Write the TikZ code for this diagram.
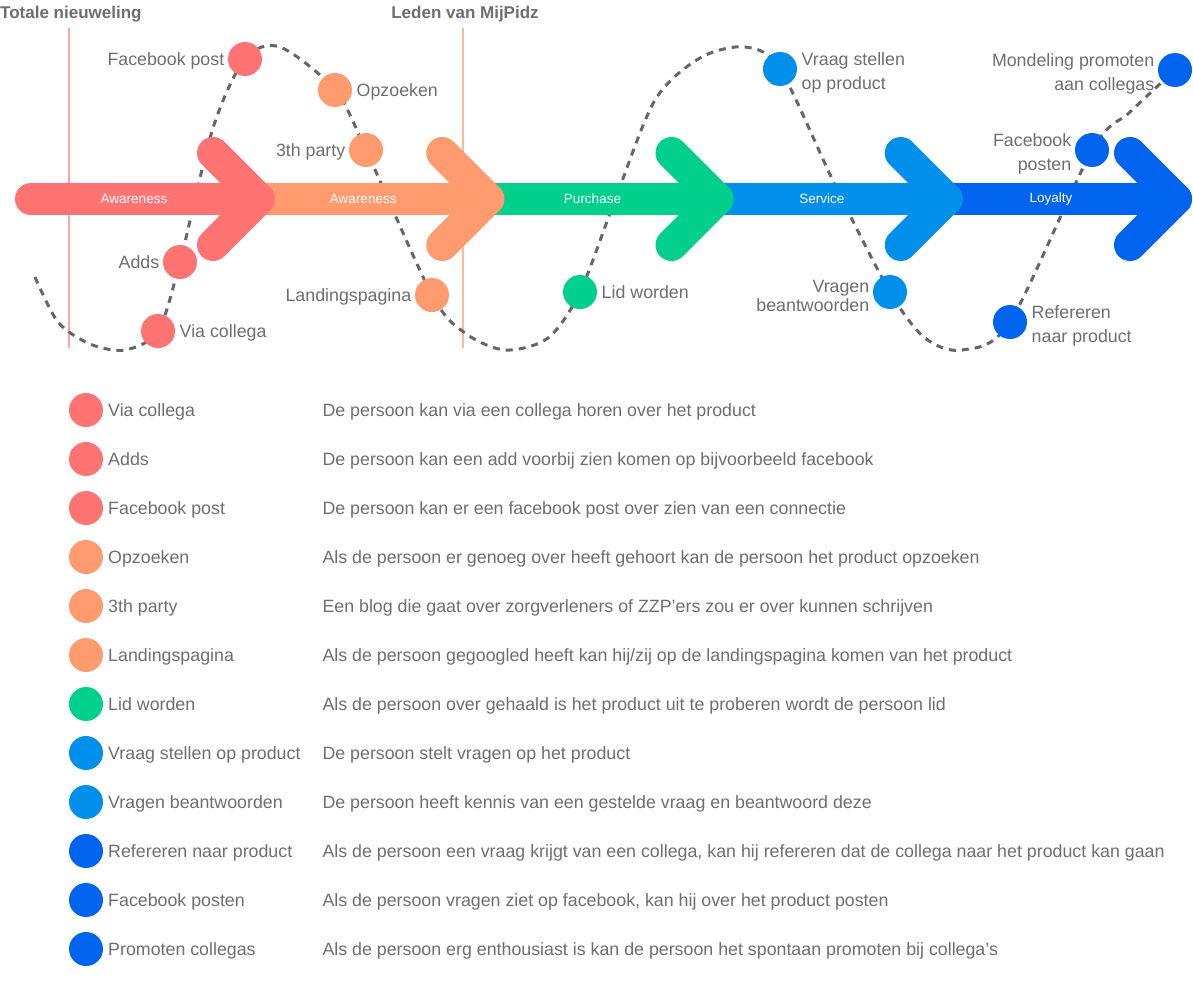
\documentclass[tikz,border=0pt]{standalone}
\usepackage{fontspec}
\setmainfont{Liberation Sans}
\usetikzlibrary{positioning}
\definecolor{rood}{HTML}{FF7373}
\definecolor{oranje}{HTML}{FF9B6F}
\definecolor{groen}{HTML}{00D08B}
\definecolor{lichtblauw}{HTML}{008FEB}
\definecolor{blauw}{HTML}{0064EE}
\definecolor{tekst}{HTML}{6E6E6E}
\definecolor{streep}{HTML}{666666}

\begin{document}
\begin{tikzpicture}[x=1pt, y=-1pt,
  every node/.style={text=tekst, font=\fontsize{17.8}{24}\selectfont},
  dot/.style={circle, fill=#1, minimum size=34pt, inner sep=0pt},
  lbl/.style={text height=13pt, text depth=1pt},
  twee/.style={yshift=-3.5pt},
  band/.style={draw=#1, line width=32pt, line cap=round, line join=round},
  fase/.style={text=white, font=\fontsize{13.5}{15}\selectfont},
  kop/.style={font=\bfseries\fontsize{17}{20}\selectfont, inner sep=0pt},
  pad/.style={draw=streep, line width=3pt, dash pattern=on 7pt off 6pt}]
\useasboundingbox (0,0) rectangle (1193,982);
\node[kop, anchor=west] (nieuw) at (0,14) {Totale nieuweling};
\node[kop] (leden) at (465,14) {Leden van MijPidz};
\draw[line width=2.5pt, draw=rood!65] (69,28) -- (69,348);
\draw[line width=2.5pt, draw=oranje!70] (463,28) -- (463,348);

\coordinate (via) at (158,331);
\coordinate (adds) at (180,262);
\coordinate (fb) at (245,59);
\coordinate (opz) at (335,90);
\coordinate (party) at (366,150);
\coordinate (land) at (432,295);
\coordinate (lid) at (580,292);
\coordinate (vraag) at (780,69);
\coordinate (vragen) at (890,292);
\coordinate (ref) at (1010,322);
\coordinate (fbp) at (1092,150);
\coordinate (mond) at (1175,70);
\draw[pad] plot[smooth] coordinates {(35,277) (58,322) (90,344) (125,350) (via) (adds) (213,128) (fb) (280,47) (opz) (party) (land) (465,333) (505,350) (548,338) (lid) (615,200) (655,100) (700,58) (745,47) (vraag) (835,185) (vragen) (925,338) (962,350) (ref) (fbp) (1130,112) (mond)};

\foreach \i/\t/\s/\kl/\naam in {4/1176/946.75/blauw/Loyalty, 3/946.75/717.5/lichtblauw/Service, 2/717.5/488.25/groen/Purchase, 1/488.25/259/oranje/Awareness, 0/259/31/rood/Awareness}{
  \draw[band=\kl] (\s,199) -- (\t,199);
  \draw[band=\kl] (\t-46,153) -- (\t,199) -- (\t-46,245);
  \node[fase] (fase\i) at (\t-125,199) {\naam};
}

\node[dot=rood] (viad) at (via) {};
\node[lbl, right=1pt of viad] (vial) {Via collega};
\node[dot=rood] (addsd) at (adds) {};
\node[lbl, left=0pt of addsd] (addsl) {Adds};
\node[dot=rood] (fbd) at (fb) {};
\node[lbl, left=0pt of fbd] (fbl) {Facebook post};
\node[dot=oranje] (opzd) at (opz) {};
\node[lbl, right=1pt of opzd] (opzl) {Opzoeken};
\node[dot=oranje] (partyd) at (party) {};
\node[lbl, left=0pt of partyd] (partyl) {3th party};
\node[dot=oranje] (landd) at (land) {};
\node[lbl, left=0pt of landd] (landl) {Landingspagina};
\node[dot=groen] (lidd) at (lid) {};
\node[lbl, right=1pt of lidd] (lidl) {Lid worden};
\node[dot=lichtblauw] (vraagd) at (vraag) {};
\node[twee, align=left, right=1pt of vraagd] (vraagl) {Vraag stellen\\op product};
\node[dot=lichtblauw] (vragend) at (vragen) {};
\node[twee, align=right, font=\fontsize{17.8}{19}\selectfont, left=0pt of vragend] (vragenl) {Vragen\\beantwoorden};
\node[dot=blauw] (refd) at (ref) {};
\node[twee, align=left, right=1pt of refd] (refl) {Refereren\\naar product};
\node[dot=blauw] (fbpd) at (fbp) {};
\node[twee, align=right, left=0pt of fbpd] (fbpl) {Facebook\\posten};
\node[dot=blauw] (mondd) at (mond) {};
\node[twee, align=right, left=0pt of mondd] (mondl) {Mondeling promoten\\aan collegas};

\foreach \i/\kl/\naam/\uitleg in {
  0/rood/Via collega/De persoon kan via een collega horen over het product,
  1/rood/Adds/De persoon kan een add voorbij zien komen op bijvoorbeeld facebook,
  2/rood/Facebook post/De persoon kan er een facebook post over zien van een connectie,
  3/oranje/Opzoeken/Als de persoon er genoeg over heeft gehoort kan de persoon het product opzoeken,
  4/oranje/3th party/Een blog die gaat over zorgverleners of ZZP'ers zou er over kunnen schrijven,
  5/oranje/Landingspagina/{Als de persoon gegoogled heeft kan hij/zij op de landingspagina komen van het product},
  6/groen/Lid worden/Als de persoon over gehaald is het product uit te proberen wordt de persoon lid,
  7/lichtblauw/Vraag stellen op product/De persoon stelt vragen op het product,
  8/lichtblauw/Vragen beantwoorden/De persoon heeft kennis van een gestelde vraag en beantwoord deze,
  9/blauw/Refereren naar product/{Als de persoon een vraag krijgt van een collega, kan hij refereren dat de collega naar het product kan gaan},
  10/blauw/Facebook posten/{Als de persoon vragen ziet op facebook, kan hij over het product posten},
  11/blauw/Promoten collegas/Als de persoon erg enthousiast is kan de persoon het spontaan promoten bij collega's}{
  \node[dot=\kl] (ld\i) at (86,{410+49*\i}) {};
  \node[lbl, right=1.5pt of ld\i] (ln\i) {\naam};
  \node[lbl, anchor=west] (lu\i) at (319,{410+49*\i}) {\uitleg};
}
\end{tikzpicture}
\end{document}
